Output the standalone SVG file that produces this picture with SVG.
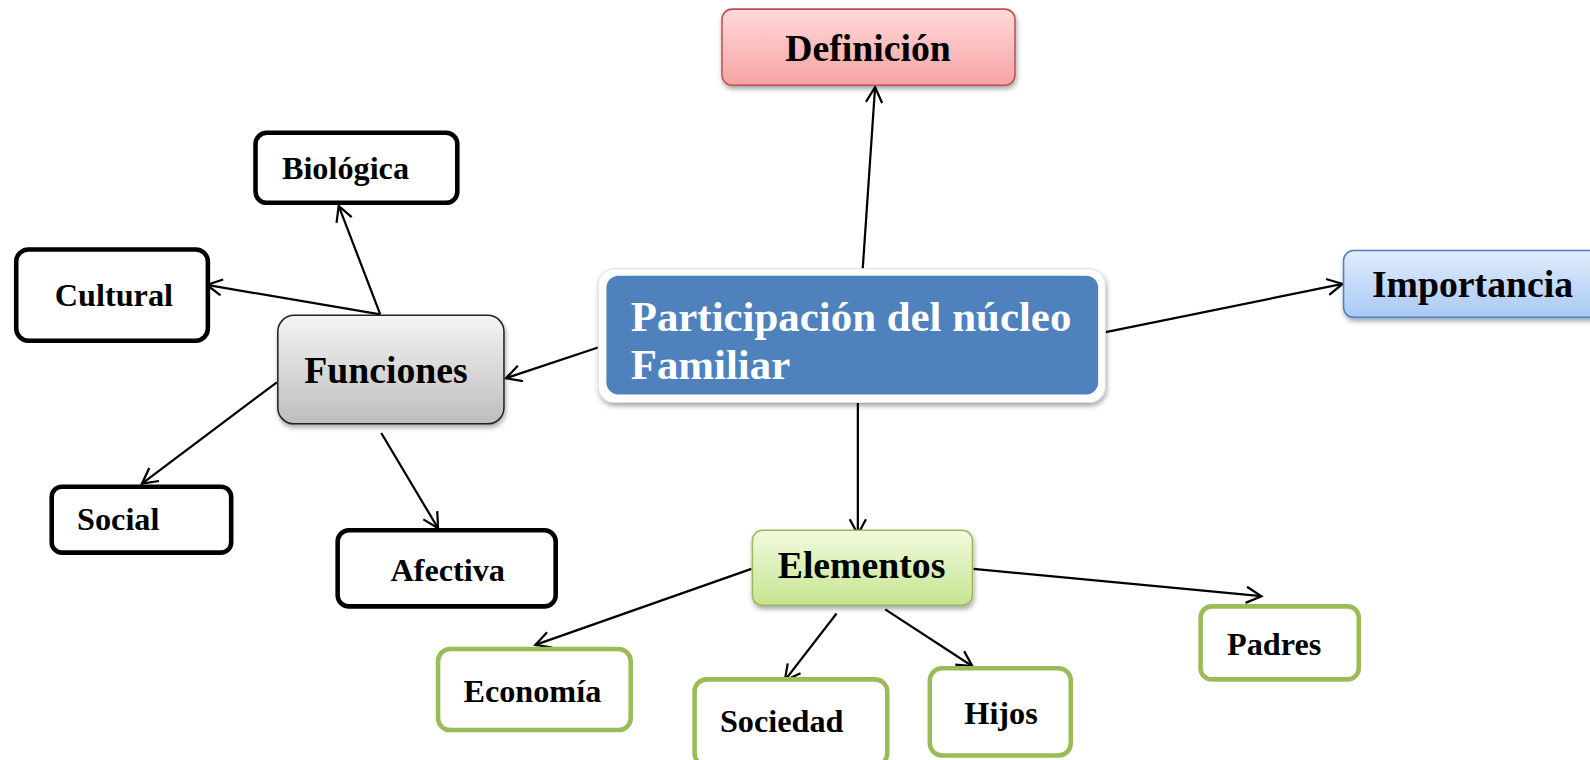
<svg xmlns="http://www.w3.org/2000/svg" width="1590" height="760" viewBox="0 0 1590 760">
<defs>
<style>
text{font-family:"Liberation Serif","Times New Roman",serif;font-weight:bold;fill:#000}
.blk{fill:#fff;stroke:#000;stroke-width:4.5}
.grn{fill:#fff;stroke:#9BBB59;stroke-width:4.5}
.con line{stroke:#000;stroke-width:2.2;marker-end:url(#ah)}
.s26{font-size:31.8px}
.s33{font-size:37.2px}
</style>
<marker id="ah" markerUnits="userSpaceOnUse" markerWidth="24" markerHeight="24" refX="16" refY="9" orient="auto">
<path d="M1,1 L16,9 L1,17" fill="none" stroke="#000" stroke-width="2.2"/>
</marker>
<linearGradient id="gPink" x1="0" y1="0" x2="0" y2="1"><stop offset="0" stop-color="#FFD9D9"/><stop offset="1" stop-color="#F5A3A3"/></linearGradient>
<linearGradient id="gBlue" x1="0" y1="0" x2="0" y2="1"><stop offset="0" stop-color="#E1ECFC"/><stop offset="1" stop-color="#A9C9F4"/></linearGradient>
<linearGradient id="gGray" x1="0" y1="0" x2="0" y2="1"><stop offset="0" stop-color="#F4F4F4"/><stop offset="1" stop-color="#BDBDBD"/></linearGradient>
<linearGradient id="gGreen" x1="0" y1="0" x2="0" y2="1"><stop offset="0" stop-color="#F2FADF"/><stop offset="1" stop-color="#C6E48F"/></linearGradient>
<filter id="sh" x="-10%" y="-10%" width="125%" height="135%"><feDropShadow dx="1" dy="3" stdDeviation="2.5" flood-color="#000" flood-opacity="0.35"/></filter>
</defs>
<rect width="1590" height="760" fill="#fff"/>
<g transform="scale(1.014)">
<g id="connectors" class="con">
<line x1="850" y1="277" x2="863" y2="86"/>
<line x1="1088" y1="328" x2="1324" y2="280"/>
<line x1="592" y1="342" x2="499" y2="373"/>
<line x1="846" y1="393" x2="846" y2="527"/>
<line x1="375" y1="310" x2="334" y2="203"/>
<line x1="375" y1="310" x2="204" y2="281"/>
<line x1="273" y1="377" x2="140" y2="477"/>
<line x1="376" y1="427" x2="432" y2="521"/>
<line x1="741" y1="561" x2="528" y2="636"/>
<line x1="825" y1="605" x2="774" y2="671"/>
<line x1="873" y1="601" x2="959" y2="657"/>
<line x1="960" y1="561" x2="1244" y2="588"/>
</g>

<g id="central">
<rect x="590" y="265" width="500" height="132" rx="16" fill="#fff" stroke="#E0E0E0" stroke-width="1" filter="url(#sh)"/>
<rect x="598" y="272" width="485" height="117" rx="12" fill="#4F81BD"/>
<text x="622" y="326" style="font-size:42.3px;fill:#fff">Participación del núcleo</text>
<text x="622" y="374" style="font-size:42.3px;fill:#fff">Familiar</text>
</g>

<g id="definicion">
<rect x="712" y="9" width="289" height="75" rx="10" fill="url(#gPink)" stroke="#C0504D" stroke-width="1.5" filter="url(#sh)"/>
<text x="856" y="60" text-anchor="middle" class="s33">Definición</text>
</g>

<g id="importancia">
<rect x="1325" y="247" width="265" height="66" rx="10" fill="url(#gBlue)" stroke="#4F81BD" stroke-width="1.5" filter="url(#sh)"/>
<text x="1353" y="293" class="s33">Importancia</text>
</g>

<g id="funciones">
<rect x="274" y="311" width="223" height="107" rx="16" fill="url(#gGray)" stroke="#222" stroke-width="1.5" filter="url(#sh)"/>
<text x="300" y="378" class="s33">Funciones</text>
</g>

<g id="biologica">
<rect x="252" y="131" width="199" height="69" rx="11" class="blk"/>
<text x="278" y="177" class="s26">Biológica</text>
</g>

<g id="cultural">
<rect x="16" y="246" width="189" height="90" rx="12" class="blk"/>
<text x="54" y="302" class="s26">Cultural</text>
</g>

<g id="social">
<rect x="51" y="480" width="177" height="65" rx="10" class="blk"/>
<text x="76" y="523" class="s26">Social</text>
</g>

<g id="afectiva">
<rect x="333" y="523" width="215" height="75" rx="11" class="blk"/>
<text x="385" y="573" class="s26">Afectiva</text>
</g>

<g id="elementos">
<rect x="742" y="523" width="217" height="74" rx="10" fill="url(#gGreen)" stroke="#9BBB59" stroke-width="1.5" filter="url(#sh)"/>
<text x="767" y="570" class="s33">Elementos</text>
</g>

<g id="economia">
<rect x="432" y="640" width="190" height="80" rx="12" class="grn"/>
<text x="457" y="692" class="s26">Economía</text>
</g>

<g id="sociedad">
<rect x="685" y="670" width="190" height="85" rx="12" class="grn"/>
<text x="710" y="722" class="s26">Sociedad</text>
</g>

<g id="hijos">
<rect x="917" y="659" width="139" height="86" rx="12" class="grn"/>
<text x="951" y="714" class="s26">Hijos</text>
</g>

<g id="padres">
<rect x="1184" y="598" width="156" height="72" rx="11" class="grn"/>
<text x="1210" y="646" class="s26">Padres</text>
</g>
</g>
</svg>
